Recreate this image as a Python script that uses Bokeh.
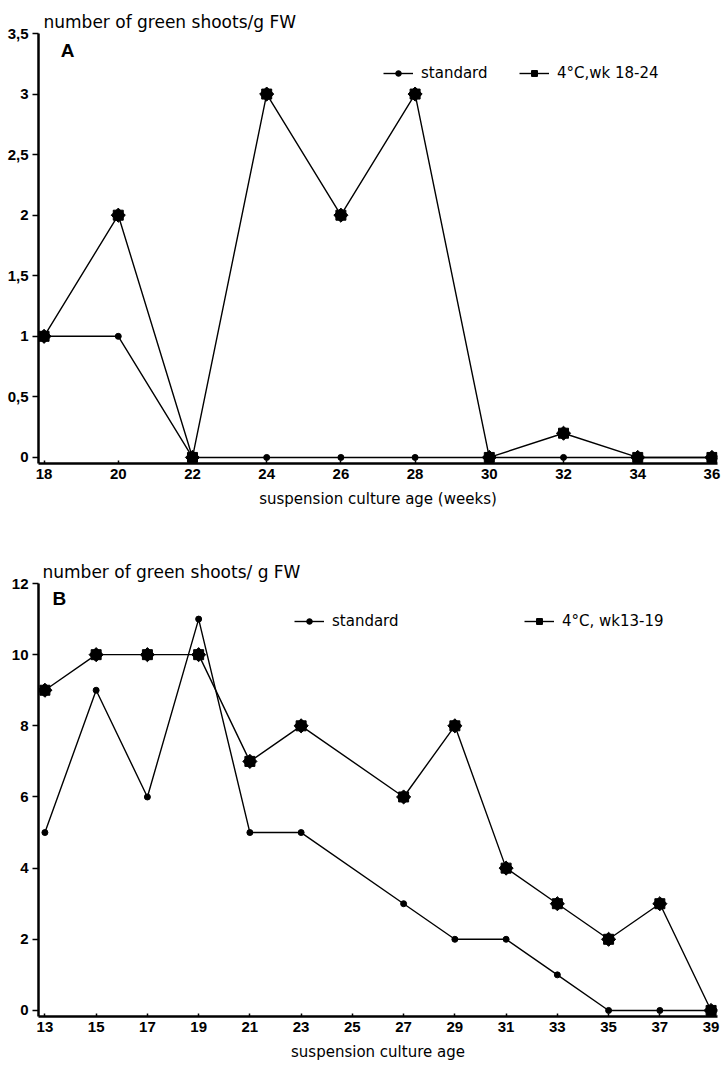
import math
from bokeh.plotting import figure
from bokeh.models import (Range1d, FixedTicker, Title, Label, Legend, LegendItem)
from bokeh.layouts import column
from bokeh.embed import file_html
from bokeh.resources import INLINE

# ---------------- data ----------------
weeks_a = [18, 20, 22, 24, 26, 28, 30, 32, 34, 36]
standard_a = [1, 1, 0, 0, 0, 0, 0, 0, 0, 0]
cold_a = [1, 2, 0, 3, 2, 3, 0, 0.2, 0, 0]
yticks_a = [0, 0.5, 1, 1.5, 2, 2.5, 3, 3.5]
ylabels_a = ["0", "0,5", "1", "1,5", "2", "2,5", "3", "3,5"]

weeks_b = [13, 15, 17, 19, 21, 23, 27, 29, 31, 33, 35, 37, 39]
standard_b = [5, 9, 6, 11, 5, 5, 3, 2, 2, 1, 0, 0, 0]
cold_b = [9, 10, 10, 10, 7, 8, 6, 8, 4, 3, 2, 3, 0]
xticks_b = list(range(13, 40, 2))
yticks_b = [0, 2, 4, 6, 8, 10, 12]

FONT = "DejaVu Sans"
TICKFONT = "Liberation Sans"


def make_panel(xs, s_std, s_cold, xr, yr, xticks, yticks, ylabels, width, height,
               bl, br, bt, bb, title, letter, letter_pos, xlabel, leg_std, leg_cold,
               label_std, label_cold, title_offset):
    p = figure(width=width, height=height, x_range=Range1d(*xr), y_range=Range1d(*yr),
               output_backend="svg", toolbar_location=None,
               min_border_left=bl, min_border_right=br, min_border_top=bt,
               min_border_bottom=bb)
    p.grid.visible = False
    p.outline_line_color = None
    p.background_fill_color = "white"
    p.border_fill_color = "white"

    for ax in (p.xaxis[0], p.yaxis[0]):
        ax.axis_line_width = 2.5
        ax.axis_line_color = "black"
        ax.major_tick_line_width = 1.5
        ax.major_tick_line_color = "black"
        ax.minor_tick_line_color = None
        ax.major_label_text_font = TICKFONT
        ax.major_label_text_font_size = "15px"
        ax.major_label_text_font_style = "bold"
        ax.major_label_text_color = "black"

    p.xaxis.ticker = FixedTicker(ticks=xticks)
    p.xaxis.major_tick_in = 3
    p.xaxis.major_tick_out = 0
    p.xaxis.major_label_standoff = 5
    p.xaxis.axis_label = xlabel
    p.xaxis.axis_label_text_font = FONT
    p.xaxis.axis_label_text_font_size = "15px"
    p.xaxis.axis_label_text_font_style = "normal"
    p.xaxis.axis_label_text_color = "black"
    p.xaxis.axis_label_standoff = 8

    p.yaxis.ticker = FixedTicker(ticks=yticks)
    p.yaxis.major_tick_in = 0
    p.yaxis.major_tick_out = 6
    p.yaxis.major_label_standoff = 4
    if ylabels is not None:
        p.yaxis.major_label_overrides = {float(t): l for t, l in zip(yticks, ylabels)}

    p.add_layout(Title(text=title, align="left", offset=title_offset,
                       text_font=FONT, text_font_size="17px", text_color="black",
                       text_font_style="normal", standoff=3), "above")

    l_std = p.line(xs, s_std, line_color="black", line_width=1.4)
    c_std = p.scatter(xs, s_std, marker="circle", size=6, fill_color="black",
                      line_color="black")
    l_cold = p.line(xs, s_cold, line_color="black", line_width=1.4)
    st1 = p.scatter(xs, s_cold, marker="square", size=10, fill_color="black",
                    line_color="black", angle=0)
    st2 = p.scatter(xs, s_cold, marker="square", size=10, fill_color="black",
                    line_color="black", angle=math.pi / 4)

    for loc, lab, rends in ((leg_std, label_std, [l_std, c_std]),
                            (leg_cold, label_cold, [l_cold, st1, st2])):
        lg = Legend(items=[LegendItem(label=lab, renderers=rends)], location=loc,
                    padding=0, margin=0, border_line_color=None,
                    background_fill_alpha=0, glyph_width=30, glyph_height=14,
                    label_height=14, label_standoff=8, label_text_color="black",
                    label_text_font=FONT, label_text_font_size="15px")
        p.add_layout(lg, "center")

    p.add_layout(Label(x=letter_pos[0], y=letter_pos[1], text=letter,
                       text_font=TICKFONT, text_font_size="19px",
                       text_font_style="bold", text_baseline="middle",
                       text_color="black"))
    return p


pa = make_panel(weeks_a, standard_a, cold_a, (17.85, 36.15), (-0.05, 3.5),
                weeks_a, yticks_a, ylabels_a, 726, 530, 38, 9, 33, 67,
                "number of green shoots/g FW", "A", (18.45, 3.36),
                "suspension culture age (weeks)", (345, 381), (481, 381),
                "standard", "4°C,wk 18-24", 5)

pb = make_panel(weeks_b, standard_b, cold_b, (12.75, 39.25), (-0.17, 12),
                xticks_b, yticks_b, None, 726, 537, 34, 9, 53, 51,
                "number of green shoots/ g FW", "B", (13.3, 11.57),
                "suspension culture age", (256, 386), (486, 386),
                "standard", "4°C, wk13-19", 4)

layout = column(pa, pb, spacing=0)
open("out.html", "w").write(file_html(layout, INLINE))
